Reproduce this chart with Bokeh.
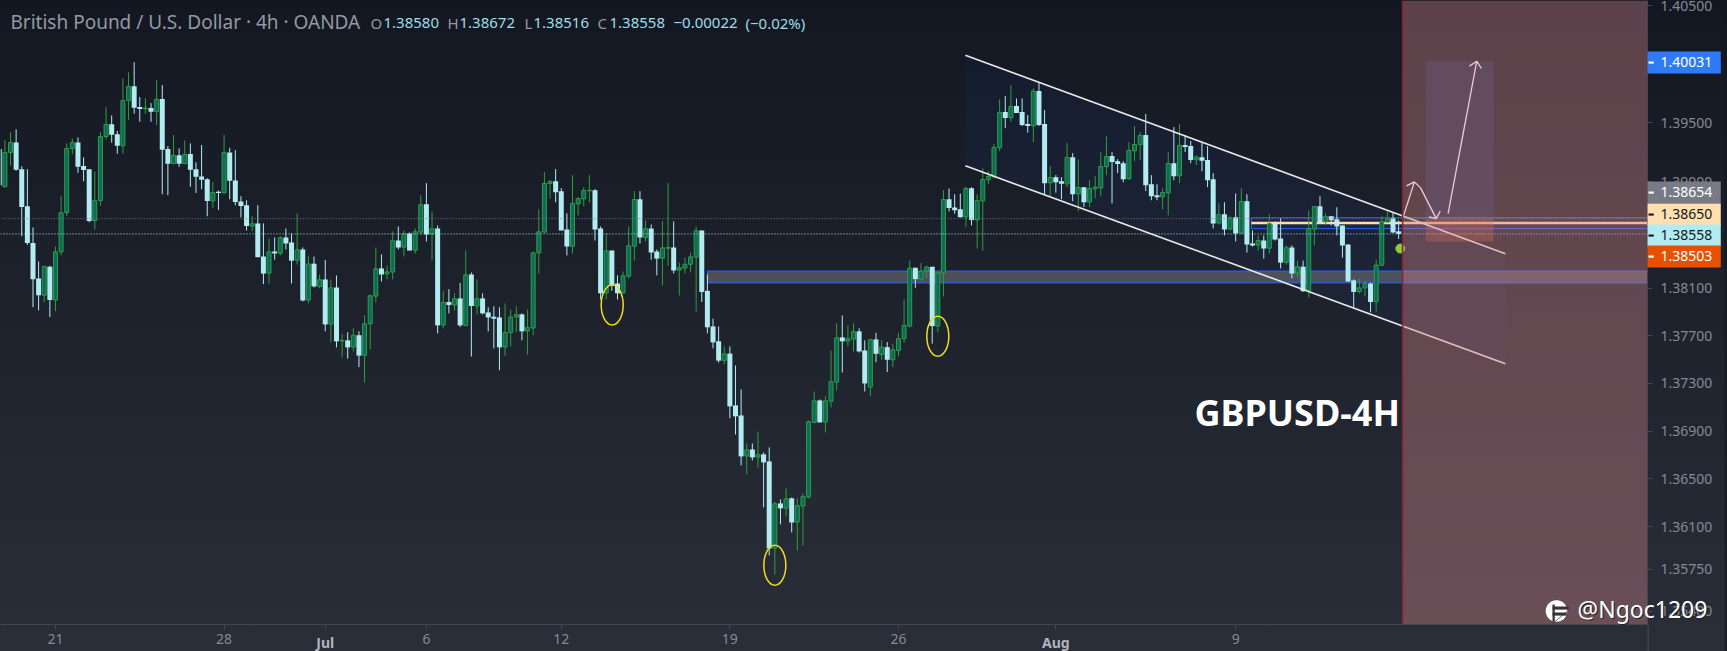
import numpy as np
from bokeh.embed import file_html
from bokeh.models import (FixedTicker, Label, NumeralTickFormatter,
                          PolyAnnotation, Range1d)
from bokeh.plotting import figure
from bokeh.resources import INLINE

# OHLC of the 4h bars, in 1e-5 of a dollar, first bar is index -1
opens = [139278,
    138957,139249,139334,139107,138792,138482,138181,138040,138281,137999,
    138406,138738,139283,139334,139133,139107,138670,138840,139385,139488,
    139403,139306,139692,139814,139635,139621,139627,139596,139704,139278,
    139153,139226,139153,139235,139107,139045,139022,138837,138914,138905,
    139249,139011,138832,138800,138624,138647,138367,138226,138409,138395,
    138528,138485,138335,138426,137999,138306,138114,138173,137797,138105,
    137655,137660,137604,137703,137535,137800,138032,138266,138221,138235,
    138502,138446,138562,138420,138573,138809,138556,138604,137789,137983,
    137958,138013,137786,138215,137949,138013,137895,137859,137853,137604,
    137725,137856,137879,137739,137764,138397,138573,138985,139005,138920,
    138596,138454,138812,138854,138923,138928,138604,138059,138417,138139,
    138059,138201,138454,138852,138528,138604,138409,138352,138437,138443,
    138252,138269,138301,138361,138587,138077,137777,137652,137492,137549,
    137114,137030,136691,136746,136682,136705,136646,135925,136296,136257,
    136338,136141,136274,136349,136972,137156,136975,137150,137309,137685,
    137654,137671,137736,137575,137268,137668,137541,137603,137497,137575,
    137674,137780,138272,138176,138243,138280,137780,138229,138852,138781,
    138766,138701,138945,138676,138837,139016,139042,139289,139593,139544,
    139644,139593,139490,139476,139772,139490,138991,139039,139005,138982,
    139209,138897,138954,138829,138940,138948,139127,139218,139175,139158,
    139025,139263,139315,139397,138979,138886,138872,138905,139158,139050,
    139312,139303,139187,139209,139184,139022,138650,138724,138599,138698,
    138565,138835,138477,138463,138502,138437,138647,138519,138318,138443,
    138226,138281,138077,138599,138792,138661,138707,138681,138630,138468,
    138165,138071,138102,138139,137985,138292,138658,138690,138580]
closes = [138971,
    139249,139334,139101,138786,138480,138174,138040,138281,137999,138406,
    138738,139283,139334,139127,139099,138667,138840,139385,139488,139400,
    139306,139692,139811,139630,139618,139627,139596,139701,139272,139153,
    139224,139153,139232,139101,139042,139016,138837,138908,138905,139249,
    139008,138829,138795,138624,138644,138361,138223,138406,138392,138525,
    138477,138332,138423,137996,138304,138114,138170,137794,138102,137652,
    137660,137601,137703,137532,137800,138035,138263,138215,138237,138500,
    138443,138559,138417,138576,138806,138553,138602,137786,137980,137958,
    138010,137786,138212,137949,138010,137887,137853,137842,137601,137725,
    137856,137876,137736,137767,138397,138576,138985,139002,138911,138587,
    138451,138815,138857,138925,138928,138596,138056,138414,138122,138056,
    138204,138457,138849,138528,138602,138400,138349,138440,138443,138249,
    138272,138301,138364,138585,138068,137770,137643,137490,137546,137106,
    137023,136688,136743,136680,136702,136638,135922,136293,136255,136335,
    136138,136277,136352,136978,137153,136972,137153,137312,137682,137652,
    137674,137733,137567,137298,137666,137547,137603,137497,137581,137674,
    137786,138269,138176,138243,138277,137780,138229,138849,138778,138758,
    138698,138943,138676,138840,139019,139045,139292,139590,139542,139641,
    139584,139482,139473,139772,139482,138988,139036,138996,138982,139207,
    138894,138951,138826,138943,138954,139130,139215,139167,139150,139022,
    139266,139317,139394,138971,138877,138869,138908,139155,139047,139309,
    139295,139184,139209,139178,139013,138647,138721,138596,138695,138562,
    138832,138468,138460,138502,138434,138644,138511,138315,138440,138223,
    138280,138074,138602,138789,138656,138704,138673,138621,138460,138156,
    138068,138102,138136,137983,138295,138661,138687,138570,138558]
highs = [139297,
    139354,139420,139445,139130,139107,138613,138324,138290,138290,138451,
    138880,139326,139368,139377,139207,139107,139087,139420,139635,139564,
    139431,139880,139931,140019,139721,139712,139669,139865,139823,139303,
    139397,139283,139351,139326,139164,139312,139030,138996,138925,139397,
    139289,139269,138877,138843,138707,138800,138647,138519,138528,138539,
    138604,138562,138732,138443,138373,138367,138215,138338,138173,138207,
    137712,137729,137762,137736,137870,138046,138443,138384,138290,138579,
    138621,138587,138570,138604,138886,138988,138749,138630,138077,138091,
    138056,138144,138417,138232,138173,138056,137938,137946,137938,137971,
    137918,137946,137887,137918,138409,138766,139082,139013,139107,138945,
    138732,139056,138869,138954,139056,138937,138621,138562,138417,138207,
    138240,138621,138920,138920,138673,138638,138426,138664,138988,138664,
    138315,138358,138400,138621,138587,138215,137842,137777,137609,137609,
    137449,137248,136796,136796,136896,136721,136763,136310,136329,136421,
    136346,136338,136379,136989,137231,137164,137190,137575,137803,137870,
    137786,137803,137761,137660,137674,137724,137660,137646,137632,137724,
    138004,138332,138272,138312,138291,138280,138235,138928,138943,138894,
    138900,138957,138954,138894,139113,139090,139320,139701,139729,139823,
    139709,139709,139567,139794,139848,139610,139133,139056,139039,139329,
    139243,139190,138954,139013,139047,139252,139385,139252,139192,139175,
    139337,139473,139422,139576,139056,138979,138943,139252,139465,139490,
    139397,139346,139226,139337,139303,139073,138817,138826,138707,138900,
    138943,138894,138587,138545,138545,138724,138664,138690,138460,138460,
    138332,138332,138758,138789,138877,138732,138707,138783,138630,138468,
    138173,138181,138165,138147,138340,138707,138749,138738,138672]
lows = [138957,
    138957,139136,139093,138539,138465,137939,137912,137982,137856,137906,
    138376,138710,139235,139076,139005,138656,138596,138795,139360,139332,
    139238,139238,139525,139579,139510,139579,139510,139482,138894,138886,
    139153,139127,139153,138957,138905,138937,138707,138778,138761,138900,
    138852,138800,138698,138587,138582,138361,138133,138139,138340,138376,
    138426,138139,138298,137987,137971,138105,138097,137736,137643,137601,
    137515,137507,137567,137435,137307,137584,137979,138156,138173,138173,
    138426,138367,138417,138392,138553,138494,138332,137719,137762,137887,
    137909,137772,137777,137524,137879,137879,137736,137593,137410,137532,
    137609,137728,137660,137540,137703,138223,138564,138857,138826,138587,
    138376,138392,138715,138792,138826,138502,138004,138004,138077,138004,
    138056,138181,138332,138477,138494,138340,138207,138122,138290,138223,
    138038,138223,138232,137903,137983,137719,137593,137473,137458,137007,
    136871,136613,136538,136655,136596,136263,135864,135706,136122,136188,
    136055,135906,135947,136338,136964,136972,136888,137097,137240,137390,
    137609,137567,137558,137231,137192,137477,137497,137393,137435,137525,
    137640,137767,138102,138165,138184,137632,137727,138029,138749,138729,
    138698,138616,138630,138434,138417,138979,139028,139260,139456,139508,
    139584,139473,139417,139337,139473,138894,138877,138908,138852,138954,
    138835,138749,138786,138783,138860,138877,139056,138817,139073,138996,
    139019,139175,139184,138920,138843,138843,138766,138715,139013,138988,
    139252,139158,139141,139090,138954,138604,138638,138545,138587,138494,
    138559,138400,138451,138417,138349,138392,138502,138266,138298,138181,
    138189,138068,138021,138460,138647,138630,138630,138545,138358,138153,
    137938,138056,138029,137895,137903,138292,138653,138567,138516]

price_ticks = [1.405, 1.395, 1.39, 1.381, 1.377, 1.373, 1.369, 1.365, 1.361, 1.3575, 1.354]
date_ticks = {9: "21", 39: "28", 57: "", 75: "6", 99: "12", 129: "19", 159: "26", 187: "", 219: "9"}
month_ticks = {57: "Jul", 187: "Aug"}

# drawings on the chart: bar index and price
channel_x = [170.9, 267.0]
channel_top = [1.40078, 1.38391]
channel_bottom = [1.39136, 1.37463]
support_left, support_top, support_bottom = 125.0, 1.38244, 1.38144
entry_left, entry_top, entry_bottom = 221.8, 1.38695, 1.38602
entry_line = 1.38650
last_price = 1.38558
prev_line = 1.38687
target_x = [252.8, 264.9]
target_prices = [1.40027, 1.38687, 1.38494]
zone_left = 248.7
ellipse_x = [108.06, 137.0, 166.0]
ellipse_y = [1.37958, 1.35782, 1.37694]
arrow_x0 = [248.9, 250.8, 250.8, 251.9, 254.7, 254.7, 256.8, 261.9, 261.9]
arrow_x1 = [250.8, 249.4, 251.9, 254.7, 253.4, 255.4, 261.9, 260.6, 262.7]
arrow_y0 = [1.38715, 1.38999, 1.38999, 1.38948, 1.38687, 1.38687, 1.38729, 1.40027, 1.40027]
arrow_y1 = [1.38999, 1.38965, 1.38948, 1.38687, 1.38701, 1.38752, 1.40027, 1.39985, 1.39965]
dot_x, dot_y = 248.3, 1.38434

FONT = "Noto Sans"
UP_FILL = "#0d6b5e"
UP_LINE = "#2e9e3f"
DOWN = "#b2ebf2"
X_END, Y_LOW, Y_HIGH = 292.28, 1.35292, 1.40547

bars = np.arange(-1, len(opens) - 1)
o, c = np.array(opens) / 1e5, np.array(closes) / 1e5
h, l = np.array(highs) / 1e5, np.array(lows) / 1e5
up = c >= o

p = figure(frame_width=1647, frame_height=624, y_axis_type="log", y_axis_location="right",
           x_range=Range1d(-0.783, X_END), y_range=Range1d(Y_LOW, Y_HIGH),
           output_backend="svg", toolbar_location=None,
           min_border_left=0, min_border_top=0, min_border_right=80, min_border_bottom=27)
p.background_fill_color = None
p.border_fill_color = None
p.outline_line_color = None
p.styles = {"background": "linear-gradient(#131722, #2a2e39)"}
p.grid.visible = False

p.yaxis.ticker = FixedTicker(ticks=price_ticks)
p.yaxis.formatter = NumeralTickFormatter(format="0.00000")
p.xaxis.ticker = FixedTicker(ticks=list(date_ticks))
p.xaxis.major_label_overrides = date_ticks
for ax in (p.xaxis, p.yaxis):
    ax.axis_line_color = "#434651"
    ax.major_tick_line_color = "#434651"
    ax.major_tick_in = 0
    ax.major_tick_out = 5
    ax.minor_tick_line_color = None
    ax.major_label_text_color = "#868993"
    ax.major_label_text_font = FONT
    ax.major_label_text_font_size = "14px"
p.yaxis.major_label_standoff = 8
p.xaxis.major_label_standoff = 4

# channel and levels go under the candles
p.patch(channel_x + channel_x[::-1], channel_top + channel_bottom[::-1],
        fill_color="#2962ff", fill_alpha=0.05, line_color=None)
p.quad(left=[support_left], right=[X_END], top=[support_top], bottom=[support_bottom],
       fill_color="#8f919a", fill_alpha=0.42, line_color=None)
p.segment([support_left, support_left, support_left], [support_top, support_bottom, support_top],
          [X_END, X_END, support_left], [support_top, support_bottom, support_bottom],
          line_color="#2962ff", line_width=1)
p.quad(left=[entry_left], right=[X_END], top=[entry_top], bottom=[entry_bottom],
       fill_color="#2962ff", fill_alpha=0.08, line_color=None)
p.segment([entry_left, entry_left, entry_left], [entry_top, entry_bottom, entry_top],
          [X_END, X_END, entry_left], [entry_top, entry_bottom, entry_bottom],
          line_color="#2962ff", line_width=1)
p.segment([entry_left], [entry_line], [X_END], [entry_line], line_color="#ffdfb0", line_width=2.5)
p.quad(left=[target_x[0]], right=[target_x[1]], top=[target_prices[0]], bottom=[target_prices[1]],
       fill_color="#4a76ff", fill_alpha=0.15, line_color=None)
p.quad(left=[target_x[0]], right=[target_x[1]], top=[target_prices[1]], bottom=[target_prices[2]],
       fill_color="#f0653a", fill_alpha=0.3, line_color=None)

# candles
p.segment(bars[~up], h[~up], bars[~up], l[~up], line_color=DOWN, line_width=1)
p.segment(bars[up], h[up], bars[up], l[up], line_color=UP_LINE, line_width=1)
p.vbar(x=bars[~up], width=0.89, top=o[~up], bottom=c[~up], fill_color=DOWN, line_color=None)
p.vbar(x=bars[up], width=0.71, top=c[up], bottom=o[up], fill_color=UP_FILL, line_color=UP_LINE, line_width=1)

# dotted price lines
p.segment([-0.4], [prev_line], [X_END], [prev_line], line_color="#787b86", line_width=1, line_dash="1 2")
p.segment([-0.783], [last_price], [X_END], [last_price], line_color=DOWN, line_width=1, line_dash="1 2")

# channel lines, arrows, circles
p.line(channel_x, channel_top, line_color="#e8e8e8", line_width=1.6)
p.line(channel_x, channel_bottom, line_color="#e8e8e8", line_width=1.6)
p.segment(arrow_x0, arrow_y0, arrow_x1, arrow_y1, line_color="#ffffff", line_width=1.3)
p.ellipse(x=ellipse_x, y=ellipse_y, width=22, height=40, width_units="screen", height_units="screen",
          fill_color=None, line_color="#f0dc1e", line_width=1.5)
p.scatter([dot_x], [dot_y], size=9, color="#86d130")

# red zone sits over everything in its range
p.quad(left=[zone_left], right=[X_END], top=[Y_HIGH], bottom=[Y_LOW], fill_color="#cc8386", fill_alpha=0.4,
       line_color=None)
p.segment([zone_left], [Y_LOW], [zone_left], [Y_HIGH], line_color="#8f1f2f", line_width=1.5)


# labels in a side panel are the only thing not clipped to the frame, so the
# boxes on the scale are labels with a background and nothing to say
def box(left, right, top, bottom, color, alpha=1.0):
    p.add_layout(Label(x=left, y=top, x_units="canvas", y_units="canvas", text=" ",
                       text_font_size="1px", text_align="left", text_baseline="top",
                       padding=(0, int(right - left), int(bottom - top), 0),
                       background_fill_color=color, background_fill_alpha=alpha), "right")


def text(txt, x, y, size, color, style="normal", align="left", x_units="canvas"):
    p.add_layout(Label(x=x, y=y, x_units=x_units, y_units="canvas", text=txt,
                       text_font=FONT, text_font_size=size, text_color=color,
                       text_font_style=style, text_align=align, text_baseline="middle"), "right")


# edge of the scale and the strip on the far right
box(1647, 1648, 624, 651, "#434651")
box(1724, 1727, 0, 651, "#131722", 0.6)

# price pills
pills = [("1.40031", 51, "#2f7bf5", "#ffffff"), ("1.38654", 181, "#787b86", "#ffffff"),
         ("1.38650", 203, "#ffdfb0", "#131722"), ("1.38558", 224, "#b2ebf2", "#131722"),
         ("1.38503", 245, "#e65100", "#ffffff")]
for lab, top, fill, ink in pills:
    box(1647, 1720, top, top + 21, fill)
    box(1648, 1653, top + 10, top + 11, ink)
    text(lab, 1660, top + 10.5, "14px", ink)

for k, lab in month_ticks.items():
    text(lab, k, 642, "14px", "#b2b5be", style="bold", align="center", x_units="data")

# header
text("British Pound / U.S. Dollar · 4h · OANDA", 10, 21, "19px", "#9598a1")
head = [("O", 370, "#9598a1"), ("1.38580", 383, "#9bdfe6"), ("H", 447, "#9598a1"), ("1.38672", 459, "#9bdfe6"),
        ("L", 524, "#9598a1"), ("1.38516", 533, "#9bdfe6"), ("C", 597, "#9598a1"), ("1.38558", 609, "#9bdfe6"),
        ("−0.00022", 673, "#9bdfe6"), ("(−0.02%)", 745, "#9bdfe6")]
for lab, x, col in head:
    text(lab, x, 22, "15px", col)

text("GBPUSD-4H", 1194, 412, "36px", "#ffffff", style="bold")

# watermark
t = np.linspace(0, 2 * np.pi, 40)
p.add_layout(PolyAnnotation(xs=list(1556 + 11 * np.cos(t)) + [1552, 1556], ys=list(610.5 + 11 * np.sin(t)) + [623, 620],
                            xs_units="canvas", ys_units="canvas", fill_color="#ffffff", fill_alpha=1,
                            line_color="#222222", line_width=1), "right")
box(1552, 1568, 606, 608, "#3a3038")
box(1552, 1566, 612, 614, "#3a3038")
box(1552, 1554, 604, 620, "#3a3038")
text("@Ngoc1209", 1578, 609, "23px", "#222222")
text("@Ngoc1209", 1577, 608, "23px", "#ffffff")

open("out.html", "w").write(file_html(p, INLINE))
